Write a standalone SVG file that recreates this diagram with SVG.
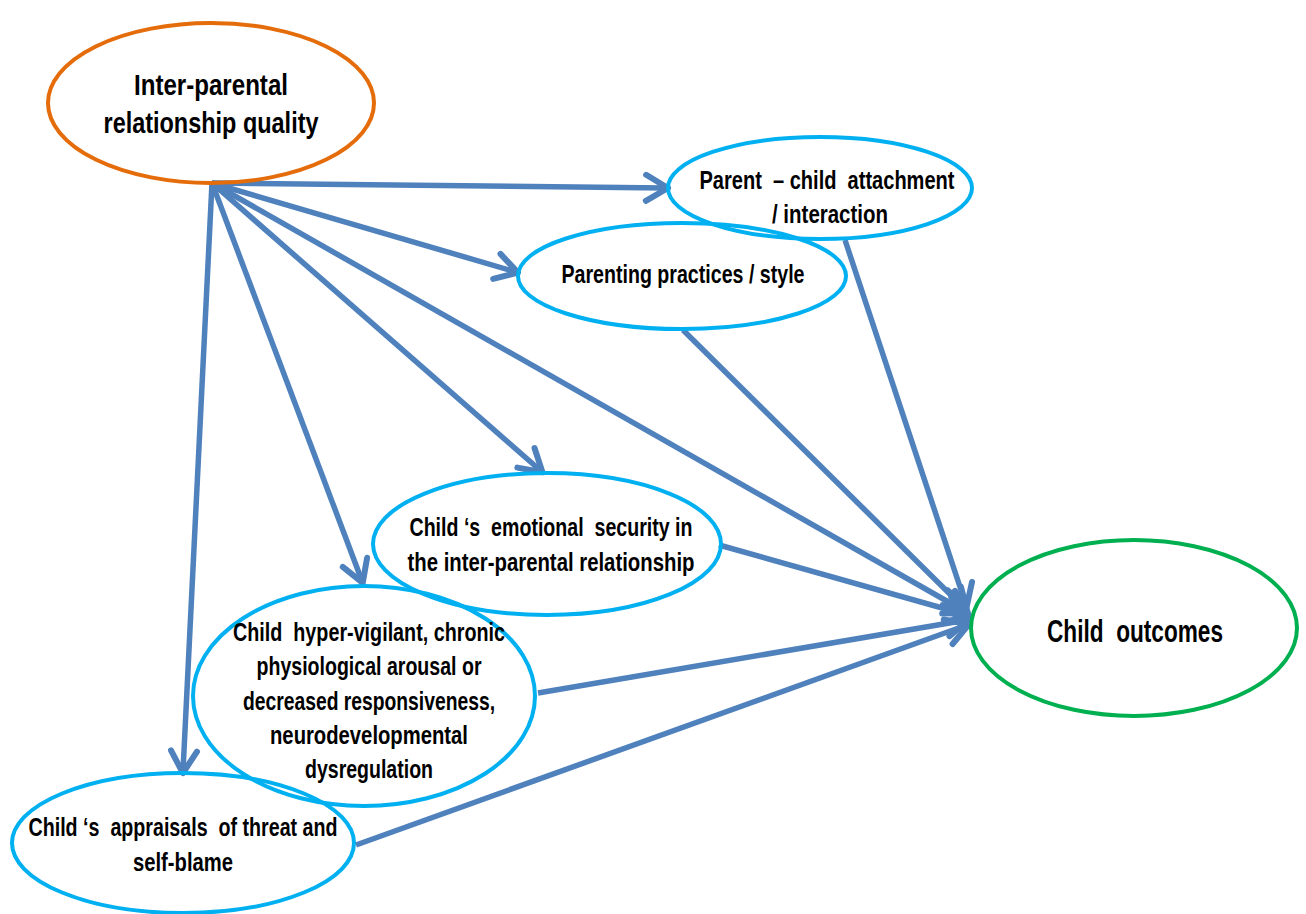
<svg xmlns="http://www.w3.org/2000/svg" width="1306" height="914" viewBox="0 0 1306 914">
<style>
.bg{fill:#ffffff}
.n{fill:none;stroke-width:4}
.or{stroke:#E46C0A}
.bl{stroke:#00B0F0}
.gr{stroke:#00B050}
.t{font-family:"Liberation Sans",Arial,sans-serif;font-weight:bold;fill:#000;text-anchor:middle;white-space:pre}
.c{fill:none;stroke:#4F81BD;stroke-width:5.5}
</style>
<defs>
<marker id="ah" markerUnits="userSpaceOnUse" viewBox="-30 -20 36 40" markerWidth="36" markerHeight="40" refX="-2" refY="0" orient="auto" overflow="visible">
<path d="M-22,-13 L0,0 L-22,13" fill="none" stroke="#4F81BD" stroke-width="6" stroke-linecap="round" stroke-linejoin="round"/>
</marker>
</defs>
<rect class="bg" x="0" y="0" width="1306" height="914"/>
<g id="connectors">
<line class="c" x1="212" y1="183" x2="666" y2="188" marker-end="url(#ah)"/>
<line class="c" x1="212" y1="183" x2="516" y2="272" marker-end="url(#ah)"/>
<line class="c" x1="212" y1="183" x2="966" y2="612" marker-end="url(#ah)"/>
<line class="c" x1="212" y1="183" x2="541" y2="471" marker-end="url(#ah)"/>
<line class="c" x1="212" y1="183" x2="362" y2="581" marker-end="url(#ah)"/>
<line class="c" x1="212" y1="183" x2="183" y2="771" marker-end="url(#ah)"/>
<line class="c" x1="845" y1="240" x2="966" y2="605" marker-end="url(#ah)"/>
<line class="c" x1="683" y1="330" x2="966" y2="610" marker-end="url(#ah)"/>
<line class="c" x1="719" y1="545" x2="967" y2="615" marker-end="url(#ah)"/>
<line class="c" x1="538" y1="693" x2="967" y2="620" marker-end="url(#ah)"/>
<line class="c" x1="356" y1="845" x2="967" y2="625" marker-end="url(#ah)"/>
</g>
<g id="interparental">
<ellipse class="n or" cx="211" cy="103" rx="163" ry="80"/>
<text class="t" x="211" y="95" font-size="30" textLength="154" lengthAdjust="spacingAndGlyphs">Inter-parental</text>
<text class="t" x="211" y="133" font-size="30" textLength="215" lengthAdjust="spacingAndGlyphs">relationship quality</text>
</g>
<g id="attachment">
<ellipse class="n bl" cx="820" cy="188" rx="152" ry="51"/>
<text class="t" x="827" y="189" font-size="25" textLength="255" lengthAdjust="spacingAndGlyphs">Parent  – child  attachment</text>
<text class="t" x="830" y="223" font-size="25" textLength="116" lengthAdjust="spacingAndGlyphs">/ interaction</text>
</g>
<g id="parenting">
<ellipse class="n bl" cx="682" cy="276" rx="164" ry="53"/>
<text class="t" x="683" y="283" font-size="25" textLength="243" lengthAdjust="spacingAndGlyphs">Parenting practices / style</text>
</g>
<g id="emotional">
<ellipse class="n bl" cx="547" cy="544" rx="174" ry="71"/>
<text class="t" x="551" y="536" font-size="26" textLength="283" lengthAdjust="spacingAndGlyphs">Child ‘s  emotional  security in</text>
<text class="t" x="551" y="571" font-size="26" textLength="287" lengthAdjust="spacingAndGlyphs">the inter-parental relationship</text>
</g>
<g id="hypervigilant">
<ellipse class="n bl" cx="364" cy="696" rx="171" ry="110"/>
<text class="t" x="369" y="641" font-size="26" textLength="272" lengthAdjust="spacingAndGlyphs">Child  hyper-vigilant, chronic</text>
<text class="t" x="369" y="675" font-size="26" textLength="225" lengthAdjust="spacingAndGlyphs">physiological arousal or</text>
<text class="t" x="369" y="710" font-size="26" textLength="252" lengthAdjust="spacingAndGlyphs">decreased responsiveness,</text>
<text class="t" x="369" y="744" font-size="26" textLength="198" lengthAdjust="spacingAndGlyphs">neurodevelopmental</text>
<text class="t" x="369" y="778" font-size="26" textLength="128" lengthAdjust="spacingAndGlyphs">dysregulation</text>
</g>
<g id="appraisals">
<ellipse class="n bl" cx="183" cy="843" rx="171" ry="70"/>
<text class="t" x="183" y="836" font-size="26" textLength="309" lengthAdjust="spacingAndGlyphs">Child ‘s  appraisals  of threat and</text>
<text class="t" x="183" y="871" font-size="26" textLength="100" lengthAdjust="spacingAndGlyphs">self-blame</text>
</g>
<g id="outcomes">
<ellipse class="n gr" cx="1134" cy="628" rx="163" ry="88"/>
<text class="t" x="1135" y="642" font-size="31" textLength="176" lengthAdjust="spacingAndGlyphs">Child  outcomes</text>
</g>
</svg>
